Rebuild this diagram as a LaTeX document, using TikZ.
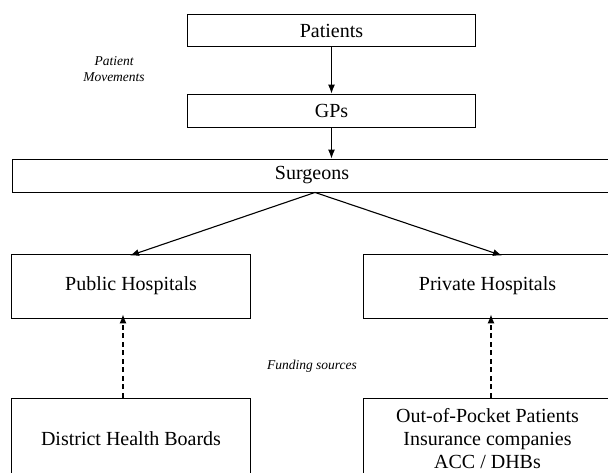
\documentclass[tikz,border=0pt]{standalone}
\usepackage{fontspec}
\setmainfont{Liberation Serif}
\usetikzlibrary{arrows.meta}
\begin{document}
\begin{tikzpicture}[x=1pt,y=-1pt,
  box/.style={draw, line width=0.9pt, inner sep=0pt, align=center,
    font=\fontsize{20}{23}\selectfont},
  flow/.style={line width=1.1pt, -{Latex[length=9pt,width=7pt]}},
  fund/.style={line width=1.1pt, dash pattern=on 5pt off 3.5pt, -{Latex[length=9pt,width=7pt]}},
  note/.style={font=\fontsize{13.5}{16}\selectfont\itshape, align=center}]
\useasboundingbox (0,0) rectangle (608,472);
\clip (0,0) rectangle (608,472);

% patient pathway
\node[box, minimum width=288pt, minimum height=32pt] (pat) at (331.5,30.5) {Patients};
\node[box, minimum width=288pt, minimum height=33pt] (gp) at (331.5,110.5) {GPs};
\node[box, minimum width=600pt, minimum height=33pt] (surg) at (312,175.5) {Surgeons};
\node[box, minimum width=239pt, minimum height=64pt] (pub) at (131,286) {Public Hospitals};
\node[box, minimum width=249pt, minimum height=64pt] (priv) at (487.5,286) {Private Hospitals};

% funding sources
\node[box, minimum width=239pt, minimum height=82pt] (dhb) at (131,439) {District Health Boards};
\node[box, minimum width=249pt, minimum height=82pt] (oop) at (487.5,439)
  {Out-of-Pocket Patients\\Insurance companies\\ACC / DHBs};

\node[note] (mov) at (114,69) {Patient\\Movements};
\node[note] (fs) at (312,366) {Funding sources};

\draw[flow] (pat.south) -- (gp.north);
\draw[flow] (gp.south) -- (gp.south |- surg.north);
\draw[flow] ([xshift=3pt]surg.south) -- ([xshift=-1pt,yshift=-2pt]pub.north);
\draw[flow] ([xshift=3pt]surg.south) -- ([xshift=14.5pt,yshift=-2pt]priv.north);

\draw[fund] ([xshift=-8pt]dhb.north) -- ([xshift=-8pt,yshift=4pt]pub.south);
\draw[fund] ([xshift=3.5pt]oop.north) -- ([xshift=3.5pt,yshift=4pt]priv.south);
\end{tikzpicture}
\end{document}
